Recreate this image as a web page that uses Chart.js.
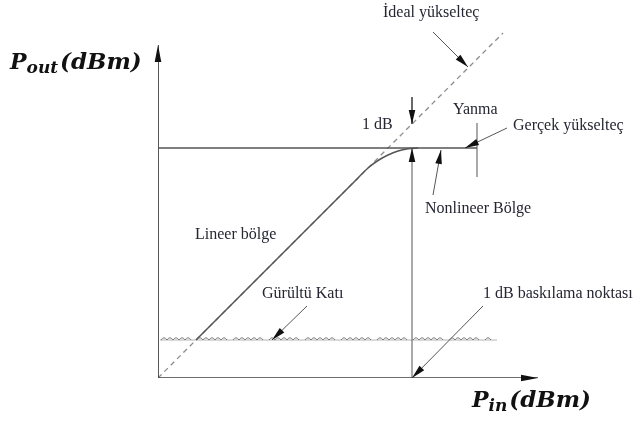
<!DOCTYPE html>
<html>
<head>
<meta charset="utf-8">
<script src="https://cdn.jsdelivr.net/npm/chart.js@4/dist/chart.umd.min.js"></script>
<style>
  html, body { margin: 0; padding: 0; background: #fff; }
  canvas { display: block; }
</style>
</head>
<body>
<canvas id="c" width="634" height="421"></canvas>
<script>
// Axis ranges (dBm)
const pinMin = -60, pinMax = 16;
const poutMin = -40, poutMax = 31;
const poutAxisTop = 26.6;

// Ideal amplifier: straight line, constant gain
const idealPin  = [-60, 9];
const idealPout = [-40, 29];

// Real amplifier: linear region, then compression into saturation
const realPin  = [-52.4, -24, -20, -18, -16, -14, -12, -10, -8];
const realPout = [-32.4, -4, 0, 2, 3.5, 4.6, 5.4, 5.85, 6];

// Saturation level
const satPin  = [-60, 3.8];
const satPout = 6;

// Noise floor
const noisePin  = [-59.6, 7.8];
const noisePout = -32.4;

// 1 dB compression point (input) and ideal output there
const p1dbPin = -9.2;
const p1dbIdeal = 10.8;

// Yanma marker
const burnPin = 3.8;
const burnPout = [0.2, 11];

// Pointer arrows: [tailPin, tailPout, tipPin, tipPout]
const arrowIdeal  = [-5, 29.2, 2, 22.2];
const arrowReal   = [9.8, 10, 1.4, 6];
const arrowNonlin = [-5, -3.4, -3.4, 5.6];
const arrowNoise  = [-30.2, -25.6, -37.2, -32.4];
const arrowP1db   = [5, -25.6, p1dbPin, poutMin];
const arrowDown   = [p1dbPin, 16.2, p1dbPin, p1dbIdeal];
const arrowUp     = [p1dbPin, poutMin, p1dbPin, satPout];

// Text labels: [text, pin, pout]
const labels = [
  ['İdeal yükselteç', -15, 33],
  ['1 dB', -19.2, 10.6],
  ['Yanma', -1, 13.6],
  ['Gerçek yükselteç', 11, 10.4],
  ['Nonlineer Bölge', -6.6, -6.2],
  ['Lineer bölge', -52.6, -11.4],
  ['Gürültü Katı', -39.2, -23.2],
  ['1 dB baskılama noktası', 5, -23.2]
];

const lineCol = '#4a4a4a';
const seg = (xs, ys, opts) => Object.assign({
  data: xs.map((x, i) => ({ x, y: Array.isArray(ys) ? ys[i] : ys })),
  showLine: true, pointRadius: 0, borderColor: lineCol, borderWidth: 1.3, fill: false, order: 2
}, opts || {});
const arrowSeg = (a, opts) => seg([a[0], a[2]], [a[1], a[3]], Object.assign({ borderColor: '#555', borderWidth: 1 }, opts || {}));

const arrows = [arrowIdeal, arrowReal, arrowNonlin, arrowNoise, arrowP1db, arrowDown, arrowUp];

const datasets = [
  seg(noisePin, noisePout, { borderColor: '#b4b4b4', borderWidth: 1, order: 6 }),
  seg(idealPin, idealPout, { borderColor: '#8c8c8c', borderWidth: 1.3, borderDash: [5, 4], order: 5 }),
  seg(satPin, satPout, { borderColor: '#555', borderWidth: 1.5 }),
  seg(realPin, realPout, { borderColor: '#555', borderWidth: 1.5, cubicInterpolationMode: 'monotone', order: 0 }),
  seg([burnPin, burnPin], burnPout, { borderColor: '#555', borderWidth: 1 }),
  seg([pinMin, pinMax], poutMin, { borderColor: '#3c3c3c', borderWidth: 1.7 }),
  seg([pinMin, pinMin], [poutMin, poutAxisTop], { borderColor: '#3c3c3c', borderWidth: 1.7 }),
  ...arrows.map(a => arrowSeg(a))
];

function arrowHead(ctx, x0, y0, x1, y1, len, half) {
  const ang = Math.atan2(y1 - y0, x1 - x0);
  ctx.save();
  ctx.translate(x1, y1);
  ctx.rotate(ang);
  ctx.beginPath();
  ctx.moveTo(0, 0);
  ctx.lineTo(-len, half);
  ctx.lineTo(-len, -half);
  ctx.closePath();
  ctx.fill();
  ctx.restore();
}

const decor = {
  id: 'decor',
  afterDraw(chart) {
    const ctx = chart.ctx, xs = chart.scales.x, ys = chart.scales.y;
    const X = v => xs.getPixelForValue(v), Y = v => ys.getPixelForValue(v);

    // wavy noise floor
    ctx.save();
    ctx.strokeStyle = '#7a7a7a';
    ctx.lineWidth = 1;
    const ny = Y(noisePout);
    let x = X(noisePin[0]) + 1;
    const xEnd = X(noisePin[1]);
    let n = 0;
    ctx.beginPath();
    while (x + 6 < xEnd) {
      if (n % 6 !== 5) {
        ctx.moveTo(x, ny);
        ctx.quadraticCurveTo(x + 3, ny - 4.5, x + 6, ny);
      }
      x += 6; n++;
    }
    ctx.stroke();
    ctx.restore();

    // arrowheads
    ctx.save();
    ctx.fillStyle = '#111';
    arrows.forEach(a => arrowHead(ctx, X(a[0]), Y(a[1]), X(a[2]), Y(a[3]), 14, 3.3));
    arrowHead(ctx, X(pinMin), Y(poutMin), X(pinMax), Y(poutMin), 17, 3.3);
    arrowHead(ctx, X(pinMin), Y(poutMin), X(pinMin), Y(poutAxisTop), 17, 3.3);
    ctx.restore();

    // annotations
    ctx.save();
    ctx.fillStyle = '#262633';
    ctx.font = '16px "Liberation Serif", serif';
    ctx.textBaseline = 'middle';
    ctx.textAlign = 'left';
    labels.forEach(l => ctx.fillText(l[0], X(l[1]), Y(l[2])));
    ctx.restore();

    // axis titles
    const title = (main, sub, rest, x, y) => {
      ctx.save();
      ctx.fillStyle = '#111';
      ctx.textBaseline = 'alphabetic';
      ctx.font = 'italic bold 22px "DejaVu Serif", serif';
      ctx.fillText(main, x, y);
      let w = ctx.measureText(main).width;
      ctx.font = 'italic bold 17px "DejaVu Serif", serif';
      ctx.fillText(sub, x + w, y + 4);
      w += ctx.measureText(sub).width + 2;
      ctx.font = 'italic bold 23px "DejaVu Serif", serif';
      ctx.fillText(rest, x + w, y);
      ctx.restore();
    };
    title('P', 'out', '(dBm)', 10, 69);
    title('P', 'in', '(dBm)', 472, 407);
  }
};

new Chart(document.getElementById('c'), {
  type: 'scatter',
  data: { datasets },
  options: {
    responsive: false,
    animation: false,
    layout: { padding: { left: 158, right: 96, top: 23, bottom: 43 } },
    plugins: { legend: { display: false }, tooltip: { enabled: false } },
    scales: {
      x: { type: 'linear', min: pinMin, max: pinMax, display: false },
      y: { type: 'linear', min: poutMin, max: poutMax, display: false }
    }
  },
  plugins: [decor]
});
</script>
</body>
</html>
